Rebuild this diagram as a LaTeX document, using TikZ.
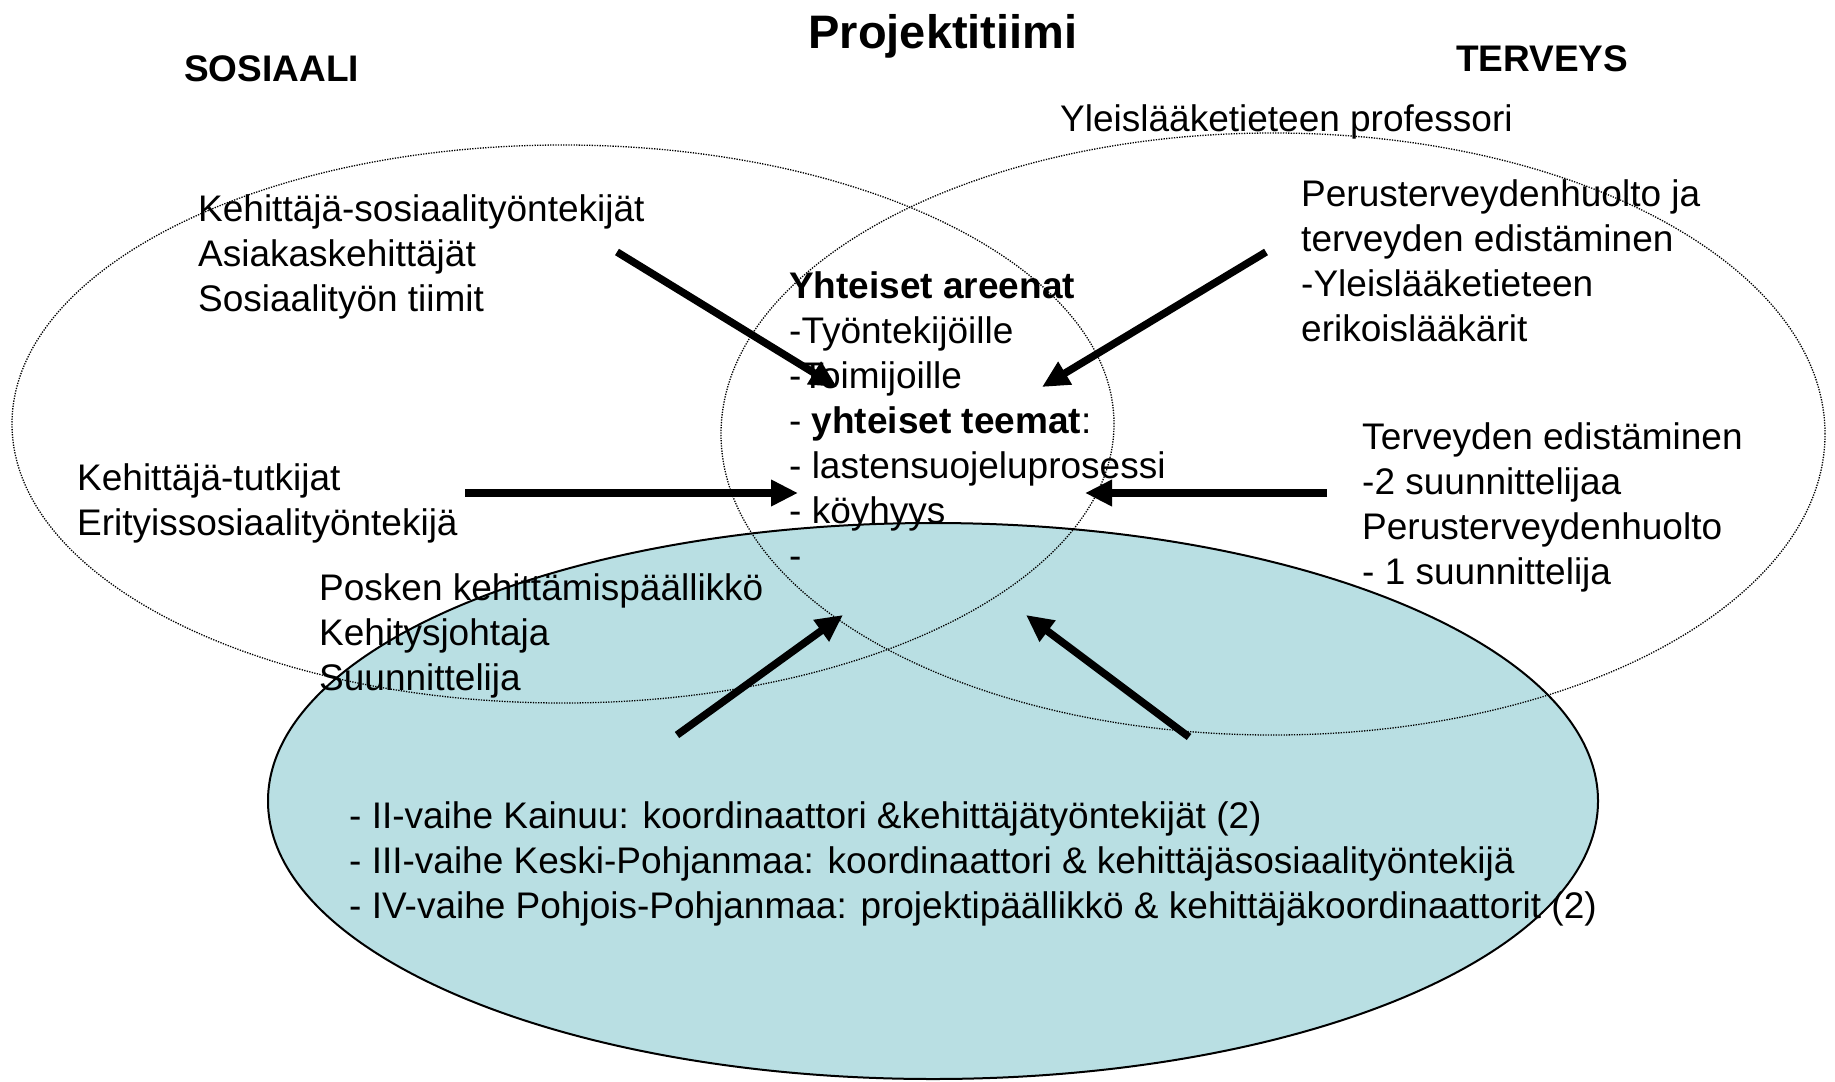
\documentclass[tikz,border=0pt]{standalone}
\usepackage{fontspec}
\setmainfont{Liberation Sans}
\usetikzlibrary{arrows.meta}
\definecolor{tiimi}{RGB}{185,223,227}
\begin{document}
\begin{tikzpicture}[x=1pt, y=-1pt,
    txt/.style={anchor=north west, inner sep=0pt, align=left, font=\fontsize{37}{45}\selectfont},
    head/.style={anchor=north west, inner sep=0pt, font=\fontsize{37}{45}\selectfont\bfseries},
    arr/.style={-{Triangle[length=27pt, width=25pt]}, line width=7.5pt},
    dots/.style={line width=1.3pt, dash pattern=on 1.3pt off 1.3pt}]
            \useasboundingbox (0,0) rectangle (1835,1081);

            % Ellipses
            \filldraw[fill=tiimi, line width=2pt] (933,801) ellipse [x radius=665pt, y radius=278pt];
            \draw[dots] (563,424) ellipse [x radius=551pt, y radius=279pt];
            \draw[dots] (1273,434) ellipse [x radius=552pt, y radius=301pt];

            % Nodes
            \node (title) [anchor=north, inner sep=0pt, font=\fontsize{47}{56}\selectfont\bfseries] at (943,14) {Projektitiimi};
            \node (sos) [head] at (184,55) {SOSIAALI};
            \node (ter) [head] at (1456,45) {TERVEYS};
            \node (prof) [txt] at (1060,104) {Yleislääketieteen professori};
            \node (kehsos) [txt] at (198,194) {Kehittäjä-sosiaalityöntekijät\\Asiakaskehittäjät\\Sosiaalityön tiimit};
            \node (tutk) [txt] at (77,463) {Kehittäjä-tutkijat\\Erityissosiaalityöntekijä};
            \node (posk) [txt] at (319,573) {Posken kehittämispäällikkö\\Kehitysjohtaja\\Suunnittelija};
            \node (yht) [txt] at (789,271) {{\bfseries Yhteiset areenat}\\-Työntekijöille\\-Toimijoille\\- {\bfseries yhteiset teemat}:\\- lastensuojeluprosessi\\- köyhyys\\-};
            \node (perus) [txt] at (1301,179) {Perusterveydenhuolto ja\\terveyden edistäminen\\-Yleislääketieteen\\erikoislääkärit};
            \node (edist) [txt] at (1362,422) {Terveyden edistäminen\\-2 suunnittelijaa\\Perusterveydenhuolto\\- 1 suunnittelija};
            \node (vaihe) [txt] at (349,801) {- II-vaihe Kainuu: koordinaattori \&kehittäjätyöntekijät (2)\\- III-vaihe Keski-Pohjanmaa: koordinaattori \& kehittäjäsosiaalityöntekijä\\- IV-vaihe Pohjois-Pohjanmaa: projektipäällikkö \& kehittäjäkoordinaattorit (2)};

            % Arrow ends
            \coordinate (s1) at (617,252);  \coordinate (t1) at (837,387);
            \coordinate (s2) at (1266,252); \coordinate (t2) at (1042,387);
            \coordinate (s3) at (465,493);  \coordinate (t3) at (798,493);
            \coordinate (s4) at (1327,493); \coordinate (t4) at (1085,493);
            \coordinate (s5) at (677,735);  \coordinate (t5) at (843,615);
            \coordinate (s6) at (1189,737); \coordinate (t6) at (1026,615);

            % Edges
            \draw[arr] (s1) -- (t1);
            \draw[arr] (s2) -- (t2);
            \draw[arr] (s3) -- (t3);
            \draw[arr] (s4) -- (t4);
            \draw[arr] (s5) -- (t5);
            \draw[arr] (s6) -- (t6);

        \end{tikzpicture}
\end{document}
